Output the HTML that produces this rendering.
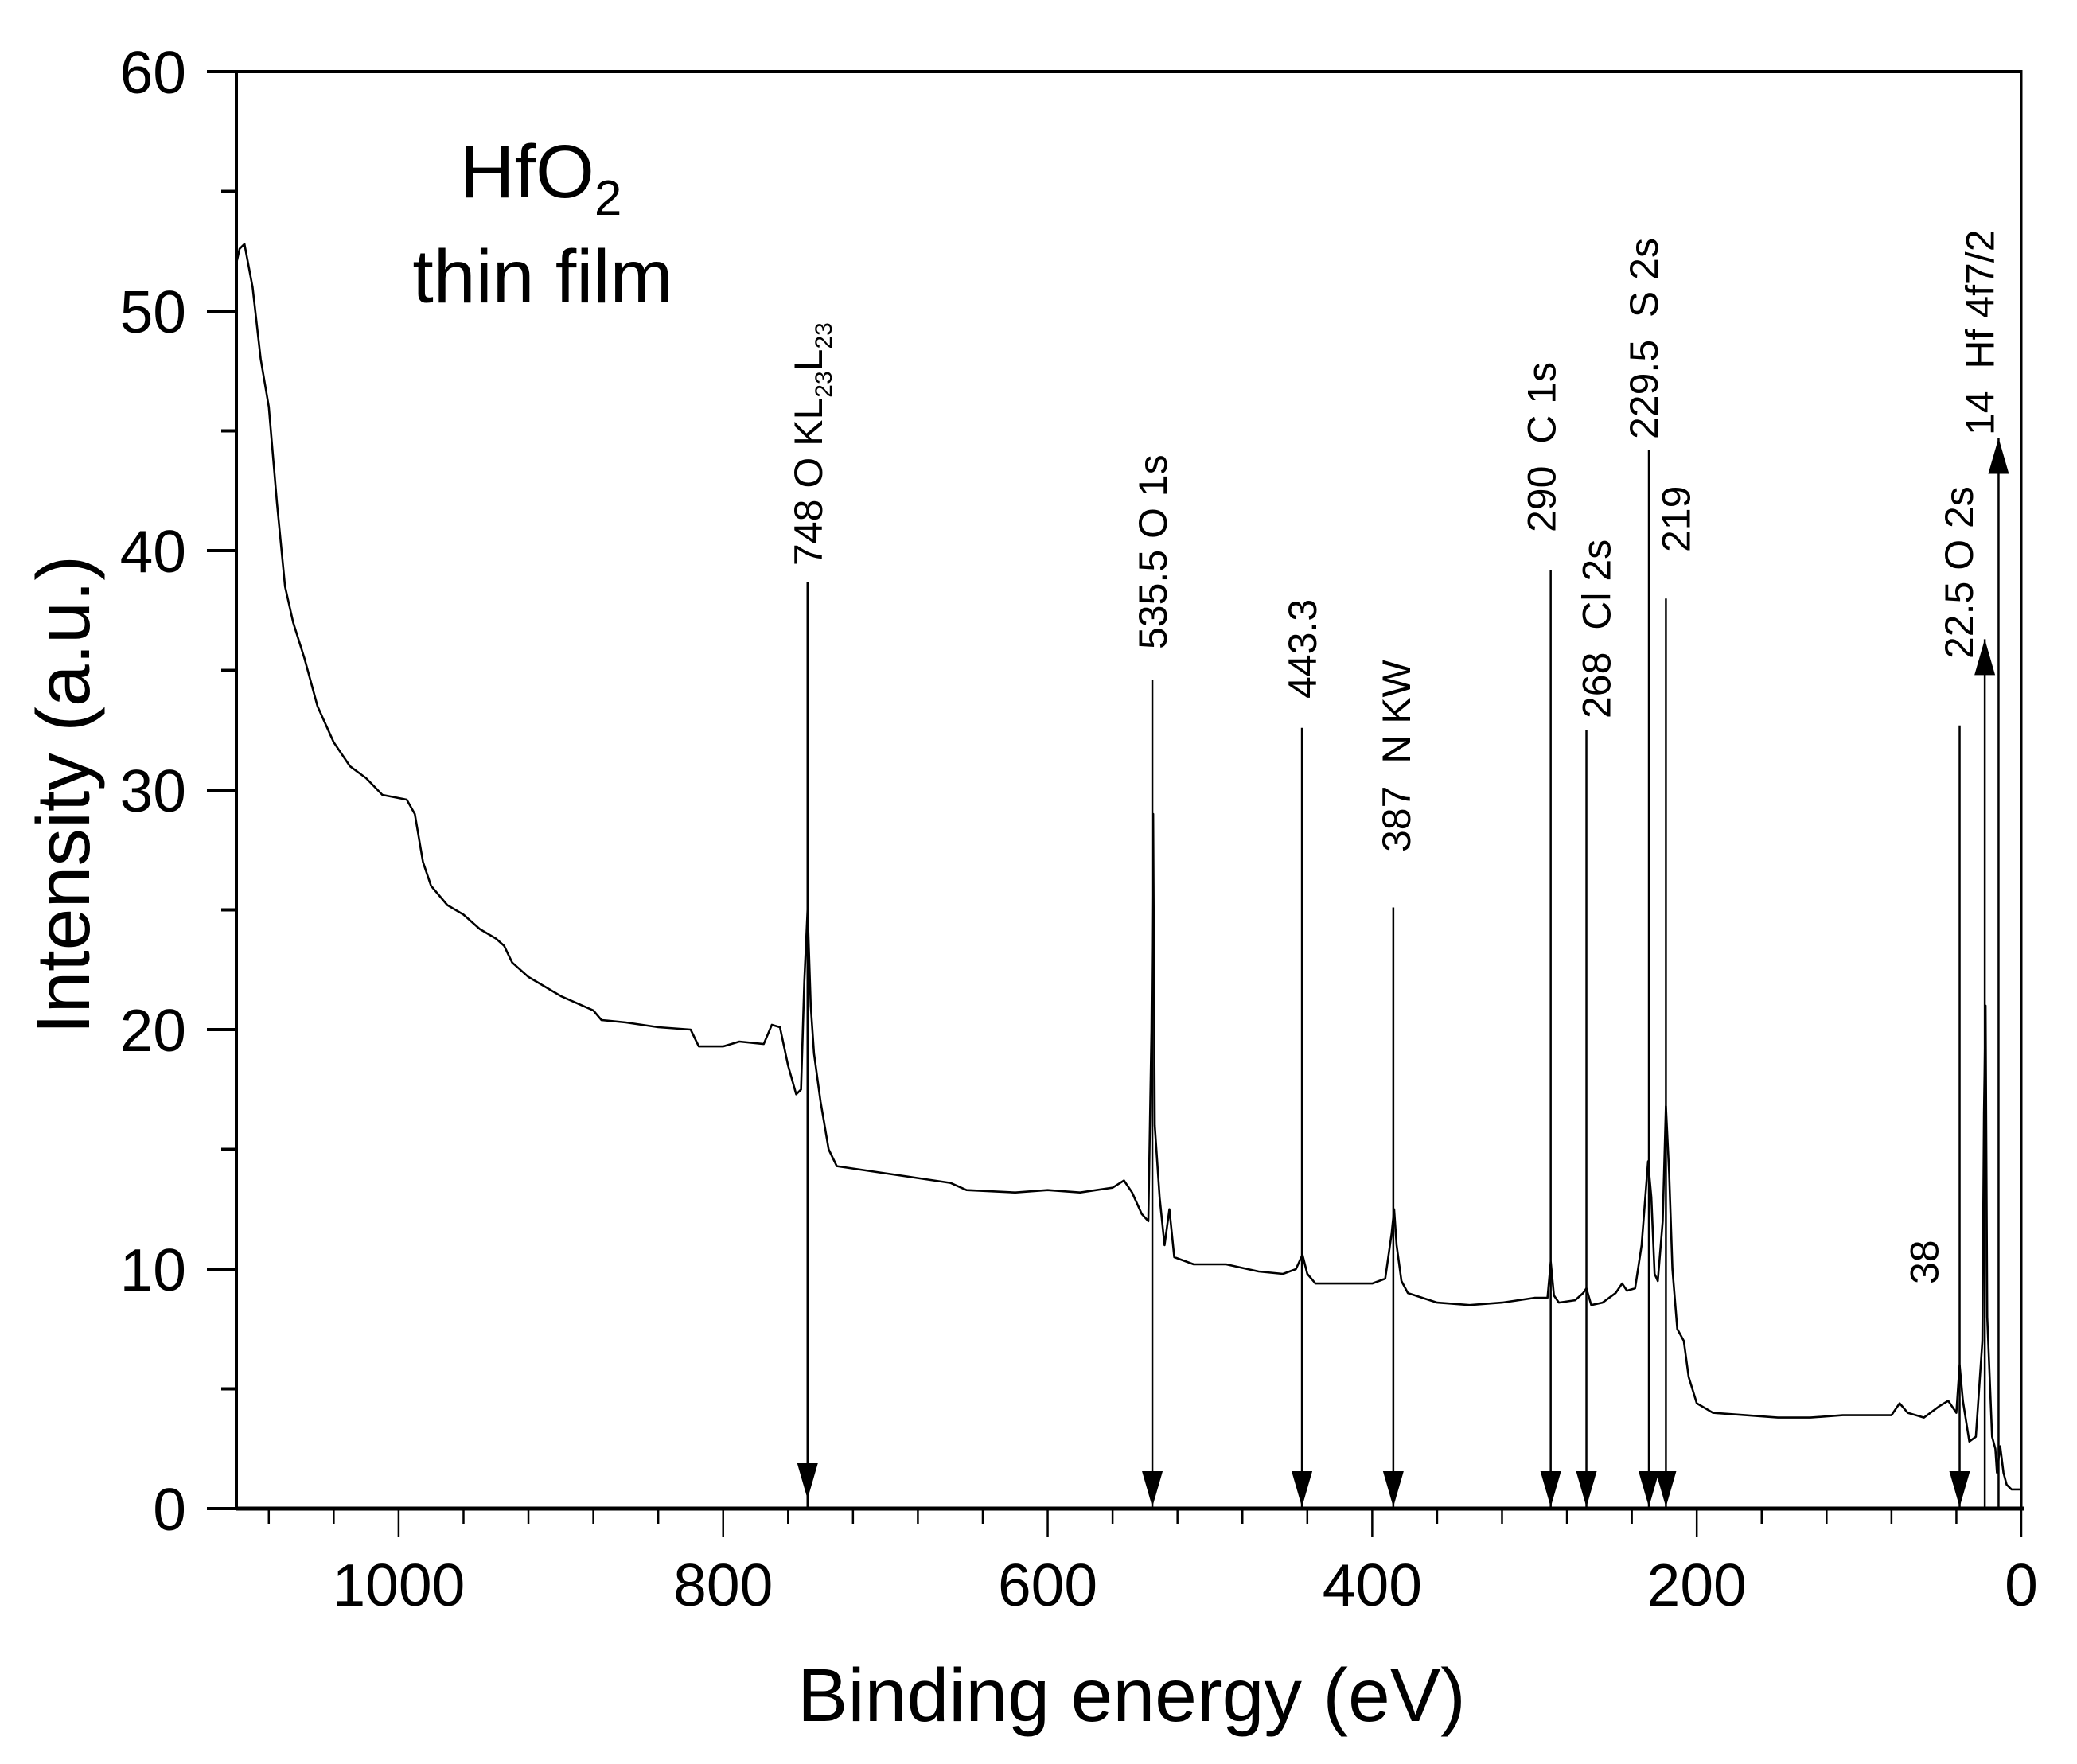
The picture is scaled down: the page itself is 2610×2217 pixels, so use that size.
<!DOCTYPE html>
<html><head><meta charset="utf-8"><style>
html,body{margin:0;padding:0;background:#fff;}
svg{display:block;}
text{font-family:"Liberation Sans",Arial,sans-serif;fill:#000;}
</style></head><body>
<svg id="chart" xmlns="http://www.w3.org/2000/svg" width="2610" height="2217" viewBox="0 0 2610 2217">
<rect width="2610" height="2217" fill="#fff"/>
<g id="plot"></g>
<text x="578" y="248" font-size="95">HfO<tspan font-size="62" dy="22">2</tspan></text>
<text x="682" y="380" font-size="95" text-anchor="middle">thin film</text>
<text x="1422" y="2163" font-size="95" text-anchor="middle">Binding energy (eV)</text>
<text x="0" y="0" font-size="95" text-anchor="middle" transform="translate(112,999) rotate(-90)">Intensity (a.u.)</text>
</svg>
<script>
// spectrum data
const energies = [1100,1098,1095,1090,1085,1080,1075,1070,1065,1058,1050,1040,1030,1020,1010,995,990,985,980,970,960,950,940,935,930,920,900,880,875,860,840,820,815,800,790,775,770,765,760,755,752,750,748,746,744,740,735,730,700,680,660,650,620,600,580,560,553,548,542,538,536,535,534,531,528,525,522,510,490,470,455,447,443,440,435,420,400,392,388,386.5,385,382,378,360,340,320,300,292,290,288,285,275,270,268,265,258,250,246,243,238,234,230,228,226,224,221,219,217,215,212,208,205,200,190,170,150,130,110,100,80,75,70,60,50,45,40,38,36,32,28,24,23,22,21,18,16,15,13,11,9,6,3,0];
const intensities = [52,52.6,52.8,51,48,46,42,38.5,37,35.5,33.5,32,31,30.5,29.8,29.6,29,27,26,25.2,24.8,24.2,23.8,23.5,22.8,22.2,21.4,20.8,20.4,20.3,20.1,20,19.3,19.3,19.5,19.4,20.2,20.1,18.5,17.3,17.5,22,25,21,19,17,15,14.3,14,13.8,13.6,13.3,13.2,13.3,13.2,13.4,13.7,13.2,12.3,12,20,29,16,13,11,12.5,10.5,10.2,10.2,9.9,9.8,10,10.6,9.8,9.4,9.4,9.4,9.6,11.5,12.5,11,9.5,9,8.6,8.5,8.6,8.8,8.8,10.3,8.9,8.6,8.7,9.0,9.2,8.5,8.6,9.0,9.4,9.1,9.2,11,14.5,13,9.8,9.5,12,16.8,14,10,7.5,7,5.5,4.4,4.0,3.9,3.8,3.8,3.9,3.9,3.9,4.4,4.0,3.8,4.3,4.5,4.0,6,4.5,2.8,3.0,7,16.5,21,8,3,2.5,1.5,2.6,1.5,1.0,0.8,0.8,0.8];
const xTickValues = [1000,800,600,400,200,0];
const xTickLabels = ["1000","800","600","400","200","0"];
const yTickValues = [0,10,20,30,40,50,60];
const yTickLabels = ["0","10","20","30","40","50","60"];
const peakEnergies = [748,535.5,443.3,387,290,268,229.5,219,38,22.5,14];
const peakTops = [38.7,34.6,32.6,25.1,39.2,32.5,44.2,38.0,32.7,36.3,44.7];
const peakLabels = ["748 O KL23L23","535.5 O 1s","443.3","387  N KW","290  C 1s","268  Cl 2s","229.5  S 2s","219","38","22.5 O 2s","14  Hf 4f7/2"];
const peakUp = [false,false,false,false,false,false,false,false,false,true,true];

// layout (not data)
const L={x0:297,x1:2540,y0:1896,y1:90,emax:1100,emin:0,vmax:60};
const labelDx=[0,0,0,3,-12,12,-7,12,-45,-33,-24];
const labelStartY=[711,816,878,1071,669,903,552,694,1614,828,547];
const NS="http://www.w3.org/2000/svg";
const sx=e=>L.x0+(L.emax-e)*(L.x1-L.x0)/(L.emax-L.emin);
const sy=v=>L.y0-v*(L.y0-L.y1)/L.vmax;
const g=document.getElementById('plot');
function mk(t,a){const el=document.createElementNS(NS,t);for(const k in a)el.setAttribute(k,a[k]);g.appendChild(el);return el;}

// spectrum
let d='';energies.forEach((e,i)=>{d+=(i?'L':'M')+sx(e).toFixed(1)+' '+sy(intensities[i]).toFixed(1);});
const line=mk('path',{d:d,fill:'none',stroke:'#000','stroke-width':2.6,'stroke-linejoin':'round'});



// annotations
peakEnergies.forEach((e,i)=>{
  const x=sx(e),top=sy(peakTops[i]);
  const ln=mk('line',{x1:x,x2:x,y1:top,y2:L.y0,stroke:'#000','stroke-width':2.5});
  
  
  let pts;
  if(peakUp[i]) pts=`${x},${top} ${x-13},${top+45} ${x+13},${top+45}`;
  else { const tip=i===0?L.y0-12:L.y0-2; pts=`${x},${tip} ${x-13},${tip-45} ${x+13},${tip-45}`; }
  const ar=mk('polygon',{points:pts,fill:'#000'});
  
  
  const bx=x+labelDx[i]+18, by=labelStartY[i];
  const t=mk('text',{x:0,y:0,'font-size':50,transform:`translate(${bx},${by}) rotate(-90)`,style:'white-space:pre'});
  
  
  if(i===0){
    t.innerHTML='748 O KL<tspan font-size="30" dy="12">23</tspan><tspan dy="-12">L</tspan><tspan font-size="30" dy="12">23</tspan>';
  } else t.textContent=peakLabels[i];
});

// axes frame
const fr=[[L.x0,L.y1,L.x1,L.y1,4],[L.x0,L.y0,L.x1+3,L.y0,5],[L.x0,L.y1-2,L.x0,L.y0+2,4],[L.x1,L.y1-2,L.x1,L.y0+2,3]];
fr.forEach(f=>{const a=mk('line',{x1:f[0],y1:f[1],x2:f[2],y2:f[3],stroke:'#000','stroke-width':f[4]});
  
  });

// x ticks
for(let e=0;e<=1080;e+=40){const maj=e%200===0;const x=sx(e);
  const t=mk('line',{x1:x,x2:x,y1:L.y0,y2:L.y0+(maj?36:19),stroke:'#000','stroke-width':2.5});
  
  }
xTickValues.forEach((v,i)=>{const t=mk('text',{x:sx(v),y:2018,'font-size':75,'text-anchor':'middle'});
  
  
  t.textContent=xTickLabels[i];});
// y ticks
for(let v=0;v<=60;v+=5){const maj=v%10===0;const y=sy(v);
  const t=mk('line',{x1:L.x0,x2:L.x0-(maj?37:19),y1:y,y2:y,stroke:'#000','stroke-width':4});
  
  }
yTickValues.forEach((v,i)=>{const t=mk('text',{x:234,y:sy(v)+27,'font-size':75,'text-anchor':'end'});
  
  
  t.textContent=yTickLabels[i];});
</script>
</body></html>
